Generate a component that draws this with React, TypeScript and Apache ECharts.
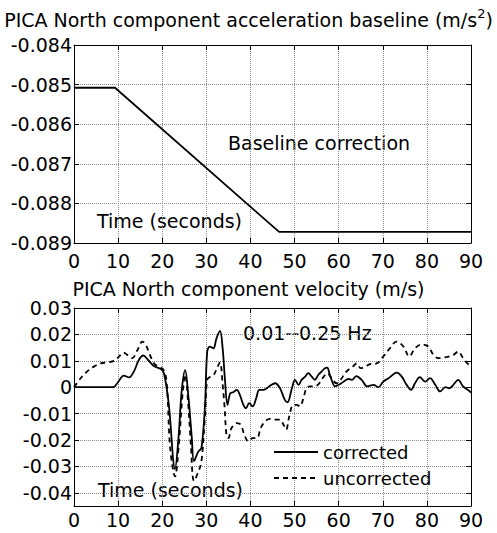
import React, { useEffect, useRef } from "react";
import * as echarts from "echarts";

// Acceleration baseline (m/s^2) over time (s)
const baselineTime = [0, 9.3, 46.5, 90];
const baselineAccel = [-0.08508, -0.08508, -0.08872, -0.08872];

// Velocity (m/s), band-passed 0.01--0.25 Hz
const correctedTime = [
  0, 8.9, 9.8, 11.3, 12.5, 13.6, 14.7, 15.7, 16.8, 18.1, 19.7, 20.4, 21.5, 22.9, 23.7, 24.4,
  25.2, 25.9, 26.7, 27.2, 28.2, 28.9, 29.7, 30.2, 30.8, 31.6, 32.3, 33.1, 33.7, 34.2, 34.8,
  35.4, 36.1, 36.9, 37.6, 38.4, 39.0, 39.7, 40.5, 41.3, 42.0, 42.9, 43.7, 44.4, 45.6, 46.7,
  47.8, 48.4, 49.4, 50.1, 50.9, 51.6, 52.4, 53.1, 53.9, 54.6, 55.4, 56.1, 56.9, 57.4, 58.0,
  59.2, 60.0, 61.1, 62.2, 63.0, 64.0, 65.2, 66.5, 67.9, 69.0, 70.1, 71.3, 73.2, 74.3, 75.4,
  76.4, 77.3, 78.4, 79.6, 80.7, 81.9, 83.0, 84.2, 85.1, 86.0, 87.1, 88.2, 89.2, 90,
];
const correctedVel = [
  0, 0, 0.0015, 0.0044, 0.0037, 0.006, 0.0103, 0.012, 0.0103, 0.008, 0.0069, 0.0053, -0.0067,
  -0.031, -0.019, -0.0016, 0.0065, -0.0029, -0.019, -0.028, -0.0243, -0.023, -0.0067, 0.0135,
  0.0154, 0.0147, 0.0185, 0.0213, 0.0147, 0.0034, -0.0067, -0.0023, -0.0019, -0.001, -0.0029,
  -0.0067, -0.008, -0.006, -0.0073, -0.0042, -0.001, -0.001, -0.0004, 0.0005, 0.0015, -0.0004,
  -0.0048, -0.0057, -0.0004, 0.0028, 0.0009, 0.0028, 0.004, 0.0053, 0.004, 0.0028, 0.0047,
  0.0059, 0.0072, 0.0074, 0.0047, 0.0003, 0.0009, 0.0021, 0.0031, 0.0028, 0.0042, 0.0028,
  0.0003, 0.0009, 0, 0.0021, 0.0034, 0.0055, 0.004, 0.0009, -0.001, 0.0015, 0.0038, 0.0021,
  0.0034, 0.0009, -0.0016, 0, -0.0004, 0.0009, 0.0028, 0.0003, -0.0009, -0.002,
];
const uncorrectedTime = [
  0, 1.5, 3.0, 4.5, 6.0, 7.6, 9.1, 10.2, 11.2, 12.1, 13.2, 14.4, 15.5, 16.3, 17.2, 18.3, 19.3,
  20.3, 21.0, 21.8, 22.9, 23.8, 24.6, 25.2, 25.9, 26.5, 27.2, 28.2, 28.9, 29.7, 30.2, 30.9,
  31.7, 32.4, 33.1, 33.7, 34.1, 34.6, 35.0, 35.7, 36.9, 37.8, 38.5, 39.5, 40.5, 41.5, 42.3,
  43.3, 44.4, 45.6, 46.7, 47.5, 48.1, 48.8, 49.7, 50.5, 51.2, 52.0, 52.7, 53.5, 54.4, 55.4,
  56.5, 57.4, 58.4, 59.5, 60.7, 61.4, 62.2, 63.2, 64.1, 65.0, 66.0, 67.1, 68.6, 70.1, 71.6,
  73.1, 74.7, 76.0, 77.3, 78.8, 80.3, 81.5, 82.6, 83.7, 84.9, 86.0, 87.1, 88.2, 89.4, 90,
];
const uncorrectedVel = [
  0, 0.0034, 0.006, 0.0078, 0.009, 0.0094, 0.01, 0.0116, 0.0131, 0.0122, 0.011, 0.0141, 0.0173,
  0.016, 0.0122, 0.0087, 0.0078, 0.0066, 0.002, -0.023, -0.0338, -0.021, -0.0029, 0.0047,
  -0.0066, -0.022, -0.0355, -0.032, -0.028, -0.0105, 0.0028, 0.004, 0.0047, 0.0072, 0.0094,
  0.0009, -0.0067, -0.0186, -0.0193, -0.0155, -0.0136, -0.0142, -0.0174, -0.0205, -0.0193,
  -0.0193, -0.0155, -0.013, -0.012, -0.0123, -0.0123, -0.0142, -0.0161, -0.011, -0.0067,
  -0.0067, -0.0073, -0.0042, -0.0004, 0.0003, 0.0003, 0.0011, 0.0037, 0.0053, 0.0034, 0.0015,
  0.0034, 0.0053, 0.0066, 0.0078, 0.009, 0.0072, 0.0078, 0.0087, 0.009, 0.0116, 0.0147, 0.0173,
  0.0154, 0.0116, 0.0147, 0.0162, 0.0154, 0.0122, 0.011, 0.0112, 0.0116, 0.0122, 0.0135, 0.011,
  0.0087, 0.0085,
];

// Velocity axis ticks (range runs a half step below the last tick)
const velocityTicks = [0.03, 0.02, 0.01, 0, -0.01, -0.02, -0.03, -0.04];

const FONT = "DejaVu Sans";
const SIZE = 19;
const zip = (xs: number[], ys: number[]) => xs.map((x, i) => [x, ys[i]]);

const gridLineStyle = { color: "#8c8c8c", type: "dotted" as const, width: 1 };
const axisLine = { show: true, onZero: false, lineStyle: { color: "#000", width: 1 } };
const tickIn = { show: true, inside: true, length: 5, lineStyle: { color: "#000" } };
const labelStyle = { color: "#000", fontFamily: FONT, fontSize: SIZE };
const textFont = `${SIZE}px '${FONT}'`;

export default function App() {
  const ref = useRef<HTMLDivElement>(null);
  useEffect(() => {
    if (!ref.current) return;
    const chart = echarts.init(ref.current, null, { renderer: "svg" });
    const timeAxis = (gridIndex: number, position: "bottom" | "top", labels: boolean, margin: number) => ({
      type: "value" as const,
      gridIndex,
      position,
      min: 0,
      max: 90,
      interval: 10,
      axisLine,
      axisTick: tickIn,
      axisLabel: { show: labels, margin, ...labelStyle },
      splitLine: { show: position === "bottom", lineStyle: gridLineStyle },
    });
    const accelAxis = (position: "left" | "right", labels: boolean) => ({
      type: "value" as const,
      gridIndex: 0,
      position,
      min: -0.089,
      max: -0.084,
      interval: 0.001,
      axisLine,
      axisTick: tickIn,
      axisLabel: { show: labels, margin: 2, ...labelStyle },
      splitLine: { show: position === "left", lineStyle: gridLineStyle },
    });
    const velAxis = (position: "left" | "right", labels: boolean) => ({
      type: "value" as const,
      gridIndex: 1,
      position,
      min: -0.045,
      max: 0.03,
      axisLine,
      axisTick: { ...tickIn, customValues: velocityTicks },
      axisLabel: { show: labels, margin: 2, customValues: velocityTicks, ...labelStyle },
      splitLine: { show: position === "left", lineStyle: gridLineStyle },
    });

    chart.setOption({
      animation: false,
      backgroundColor: "#fff",
      title: [
        {
          left: "center",
          top: 7,
          padding: 0,
          text: "{a|PICA North component acceleration baseline (m/s}{b|2}{a|)}",
          textStyle: {
            fontWeight: "normal",
            rich: {
              a: { fontFamily: FONT, fontSize: SIZE, fontWeight: "normal", color: "#000", lineHeight: 25 },
              b: { fontFamily: FONT, fontSize: 13, fontWeight: "normal", color: "#000", verticalAlign: "top", lineHeight: 14 },
            },
          },
        },
        {
          left: "center",
          top: 279,
          padding: 0,
          text: "PICA North component velocity (m/s)",
          textStyle: { fontFamily: FONT, fontSize: SIZE, color: "#000", fontWeight: "normal" },
        },
      ],
      grid: [
        { left: 74, top: 45, width: 397, height: 198 },
        { left: 74, top: 308, width: 397, height: 198 },
      ],
      xAxis: [
        timeAxis(0, "bottom", true, 8),
        timeAxis(0, "top", false, 8),
        timeAxis(1, "bottom", true, 4),
        timeAxis(1, "top", false, 4),
      ],
      yAxis: [
        accelAxis("left", true),
        accelAxis("right", false),
        velAxis("left", true),
        velAxis("right", false),
      ],
      legend: {
        left: 273,
        top: 442,
        orient: "vertical",
        itemWidth: 44,
        itemHeight: 14,
        itemGap: 6,
        padding: 0,
        itemStyle: { opacity: 0 },
        textStyle: { fontFamily: FONT, fontSize: 18, color: "#000", lineHeight: 20 },
        data: ["corrected", "uncorrected"],
      },
      series: [
        {
          name: "baseline",
          type: "line",
          xAxisIndex: 0,
          yAxisIndex: 0,
          data: zip(baselineTime, baselineAccel),
          symbol: "none",
          lineStyle: { color: "#000", width: 1.8 },
        },
        {
          name: "corrected",
          type: "line",
          xAxisIndex: 2,
          yAxisIndex: 2,
          data: zip(correctedTime, correctedVel),
          symbol: "none",
          smooth: 0.35,
          lineStyle: { color: "#000", width: 1.8 },
          itemStyle: { color: "#000" },
        },
        {
          name: "uncorrected",
          type: "line",
          xAxisIndex: 2,
          yAxisIndex: 2,
          data: zip(uncorrectedTime, uncorrectedVel),
          symbol: "none",
          smooth: 0.35,
          lineStyle: { color: "#000", width: 1.8, type: [5, 4] },
          itemStyle: { color: "#000" },
        },
      ],
      graphic: [
        { type: "text", left: 97, top: 211, style: { text: "Time (seconds)", font: textFont, fill: "#000" } },
        { type: "text", left: 228, top: 133, style: { text: "Baseline correction", font: textFont, fill: "#000" } },
        { type: "text", left: 98, top: 480, style: { text: "Time (seconds)", font: textFont, fill: "#000" } },
        { type: "text", left: 243, top: 323, style: { text: "0.01--0.25 Hz", font: textFont, fill: "#000" } },
      ],
    });
    return () => chart.dispose();
  }, []);
  return <div ref={ref} style={{ position: "fixed", left: 0, top: 0, width: 497, height: 533 }} />;
}
